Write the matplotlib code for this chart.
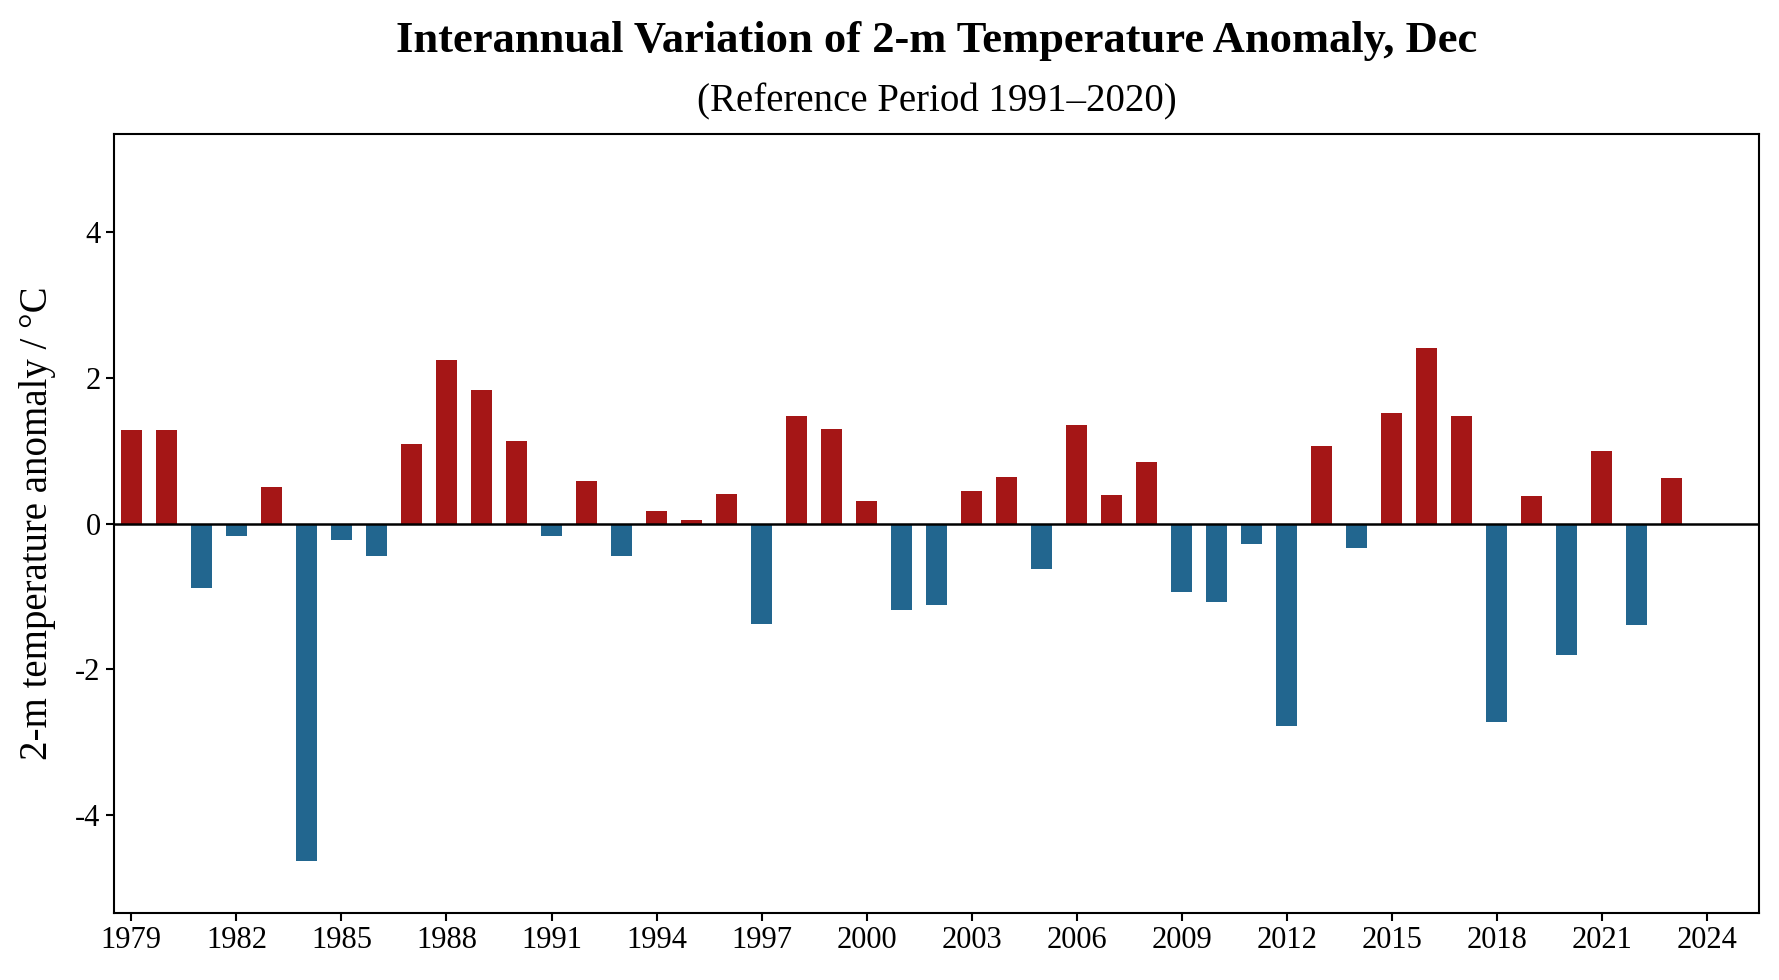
import numpy as np
import matplotlib
matplotlib.use("Agg")
import matplotlib.pyplot as plt

plt.rcParams['font.family'] = ['Liberation Serif', 'DejaVu Serif']

years = np.arange(1979, 2024)
anomaly = [1.28, 1.28, -0.88, -0.17, 0.50, -4.64, -0.22, -0.44, 1.09, 2.25,
           1.84, 1.14, -0.17, 0.59, -0.44, 0.17, 0.05, 0.41, -1.38, 1.48,
           1.30, 0.31, -1.19, -1.12, 0.45, 0.64, -0.62, 1.36, 0.39, 0.84,
           -0.94, -1.08, -0.28, -2.78, 1.06, -0.34, 1.52, 2.41, 1.48, -2.73,
           0.38, -1.81, 1.00, -1.39, 0.63]
xticks = np.arange(1979, 2025, 3)
yticks = [-4, -2, 0, 2, 4]

red = '#a51616'
blue = '#22668f'
colors = [red if v >= 0 else blue for v in anomaly]

fig = plt.figure(figsize=(17.79, 9.8), dpi=100)
ax = fig.add_axes([0.064, 0.0685, 0.925, 0.7945])
ax.bar(years, anomaly, width=0.6, color=colors)
ax.axhline(0, color='black', lw=1.8)

ax.set_xlim(1978.5, 2025.5)
ax.set_ylim(-5.35, 5.35)
ax.set_xticks(xticks)
ax.set_yticks(yticks)
ax.set_yticklabels([str(t) for t in yticks])
ax.tick_params(labelsize=22, width=1.5, length=6)
for s in ax.spines.values():
    s.set_linewidth(1.5)
ax.set_ylabel('2-m temperature anomaly / \u00b0C', fontsize=28, labelpad=14)

# titles centred over the axes
xc = 0.064 + 0.925 / 2
fig.text(xc, 0.958, 'Interannual Variation of 2-m Temperature Anomaly, Dec',
         ha='center', va='center', fontsize=32, fontweight='bold')
fig.text(xc, 0.896, '(Reference Period 1991\u20132020)',
         ha='center', va='center', fontsize=28)

fig.savefig('out.png', dpi=100)
